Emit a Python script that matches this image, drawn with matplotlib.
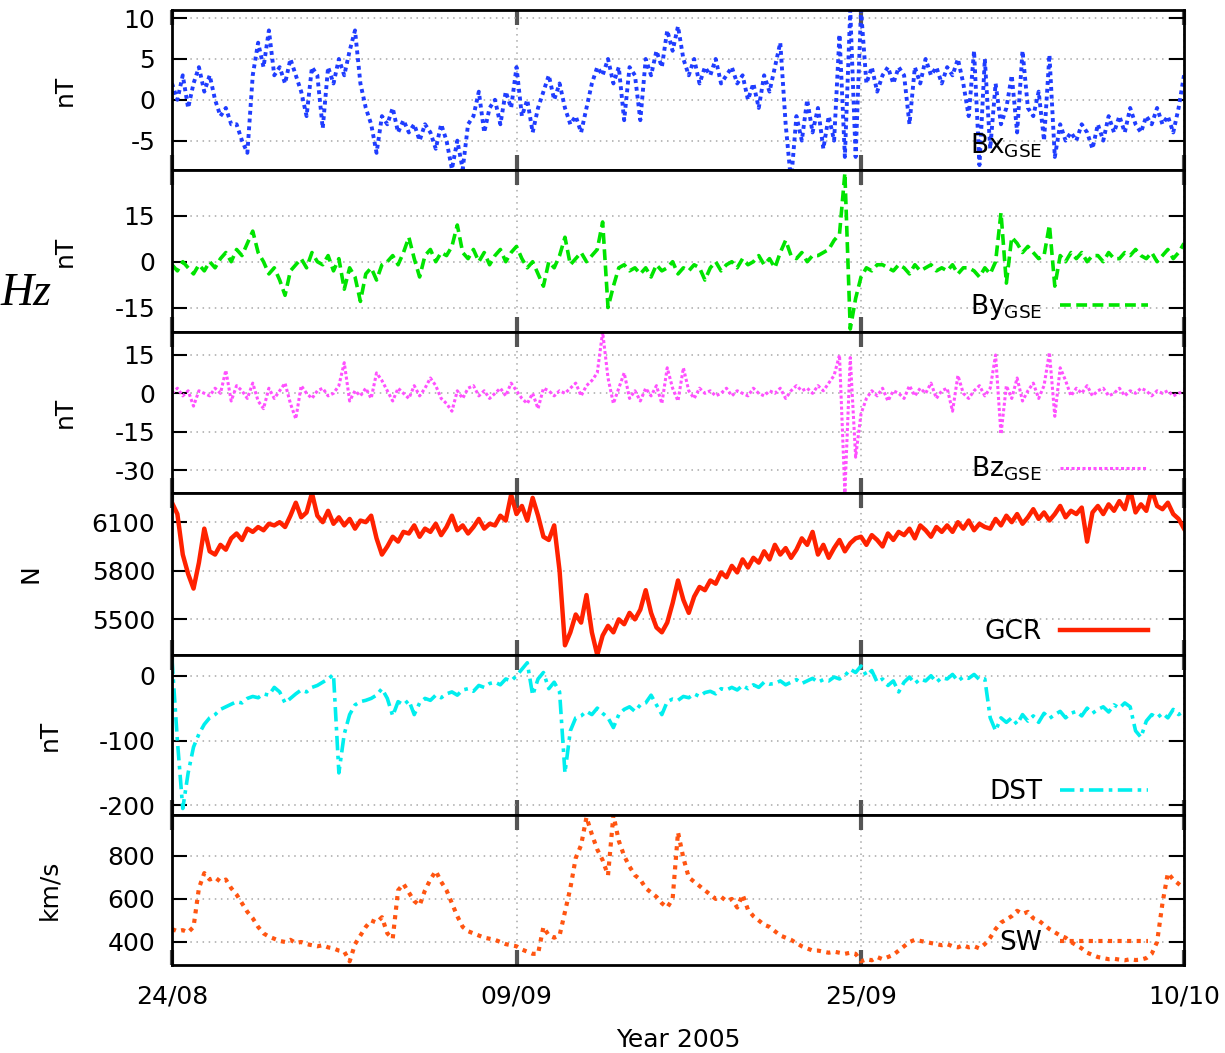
import pandas as pd
import matplotlib
matplotlib.use("Agg")
import matplotlib.pyplot as plt
import matplotlib.dates as mdates

plt.rcParams["font.family"] = ["DejaVu Sans"]
plt.rcParams["axes.unicode_minus"] = False

# ----------------------------------------------------
# 6-hourly samples, 24/08/2005 00:00 -> 10/10/2005 00:00
# ----------------------------------------------------
times = pd.date_range("2005-08-24", "2005-10-10", freq="6h")

bx = [
    2, 0, 3, -1,  2, 4, 1, 3,  0, -2, -1, -3,  -3, -5, -6.5, 3,
    7, 4, 8.5, 3,  4, 2, 5, 3,  1, -2, 4, 3,  -3.5, 4, 2, 5,
    3, 6, 8.5, 2,  -1, -3, -6.5, -2,  -3, -1, -4, -2.5,  -4, -3, -5, -3,
    -4, -6, -3, -5,  -8.5, -5, -8.5, -3,  -2, 1, -4, -1,  0, -3, 1, -1,
    4, -2, 0, -4,  -1, 1, 3, 0,  2, -1, -3, -2,  -4, -1, 2, 4,
    3, 5, 2, 4,  -2.5, 4, 3, -2.5,  5, 3, 6, 4,  8.5, 6, 9, 5,
    3, 5, 2, 4,  3, 5, 2, 3,  4, 2, 3, 0,  2, -1, 3, 1,
    4, 7, -3, -10,  -2, -5, 0, -4,  -1, -6, -2, -5,  8, -7, 11, -7,
    11, 2, 4, 1,  3, 4, 2, 4,  3, -3, 4, 2,  5, 3, 4, 2,
    4, 3, 5, 2,  -2, 6, -8, 5,  -6, 2, -3, -1,  3, -4, 6, -1,
    -2, 1, -5, 5.5,  -7, -3, -5, -4,  -5, -3, -4, -6,  -3, -5, -2, -4,
    -2, -4, -1, -3,  -4, -2, -3, -1,  -3, -2, -4, -1,
    3,
]

by = [
    -1, -3, 0, -2,  -4, -1, -3, 0,  -2, 1, 3, 0,  4, 2, 6, 10,
    3, 0, -4, -2,  -6, -11, -3, -1,  1, -2, 3, 0,  -1, 2, -3, 1,
    -9, -2, -5, -13,  -4, -2, -6, -1,  0, 2, -1, 3,  8, 1, -5, 2,
    4, 0, 3, 2,  5, 12, 3, 1,  4, 0, 3, -1,  2, 4, 0, 3,
    5, 1, -2, 0,  -4, -8, 0, -2,  2, 8, -1, 1,  3, 0, 2, 4,
    13, -15, -8, -2,  -1, -3, -2, -4,  -2, -5, -1, -3,  -2, 0, -4, -2,
    -3, -1, -2, -6,  -2, 0, -3, -1,  0, -2, 1, -1,  0, 2, -1, 1,
    -2, 3, 7, 2,  1, 3, 0, 2,  2, 3, 4, 7,  9, 29, -22, -12,
    -5, -2, -3, -1,  -1, -2, -3, -1,  -2, -4, -1, -3,  -2, -1, -3, -2,
    -3, -1, -4, -2,  -2, -3, -5, -2,  -4, 0, 16, -7,  8, 6, 3, 5,
    3, 1, 2, 12,  -8, 2, 0, 3,  1, 3, 0, 2,  2, 0, 3, 1,
    1, 3, 2, 4,  2, 1, 3, 0,  2, 4, 1, 3,
    6,
]

bz = [
    0, 2, -1, 1,  -5, 1, 0, -1,  2, 0, 9, -3,  3, 1, -2, 4,
    -3, -6, 2, -2,  1, 4, -4, -10,  3, 0, -2, 1,  2, -1, 0, 3,
    12, -3, 1, -1,  2, -2, 8, 5,  1, -3, 2, 0,  -2, 3, -1, 2,
    6, 3, -2, -4,  -7, 1, -2, 2,  3, -1, 1, -2,  0, 2, -1, 4,
    1, -2, -4, 0,  -6, 2, 1, -1,  1, 0, 2, 4,  -1, 3, 5, 8,
    24, 6, -4, 2,  8, -2, 1, -3,  2, -1, 3, -4,  10, 2, -3, 10,
    1, -2, 2, 0,  1, -1, 0, 2,  -1, 1, 0, -1,  2, 0, -1, 1,
    0, 2, -2, 1,  3, 1, 2, 0,  3, 1, 4, 7,  15, -39, 14, -25,
    -8, -2, 1, -1,  2, -3, 1, 0,  -2, 3, -1, 2,  0, 4, -2, 1,
    2, -7, 7, 0,  -2, 1, 3, -1,  2, 15, -16, 3,  -2, 6, -3, 1,
    4, -2, 3, 16,  -9, 10, 5, -1,  2, 0, 3, -1,  1, 2, -1, 0,
    2, -1, 1, 0,  2, 1, -1, 1,  0, 1, -1, 0,
    1,
]

gcr = [
    6220, 6150, 5900, 5780,  5690, 5850, 6060, 5920,  5900, 5960, 5930, 6000,
    6030, 5990, 6060, 6040,  6070, 6050, 6090, 6080,  6100, 6070, 6140, 6220,
    6130, 6160, 6280, 6140,  6100, 6170, 6090, 6130,  6080, 6120, 6060, 6110,
    6100, 6140, 6000, 5900,  5950, 6010, 5980, 6040,  6030, 6080, 6010, 6060,
    6040, 6090, 6020, 6070,  6140, 6050, 6080, 6030,  6070, 6120, 6060, 6090,
    6080, 6140, 6110, 6270,  6150, 6200, 6110, 6250,  6140, 6010, 5990, 6080,
    5800, 5340, 5420, 5530,  5480, 5650, 5420, 5280,  5400, 5460, 5420, 5500,
    5470, 5540, 5500, 5560,  5680, 5540, 5450, 5420,  5480, 5600, 5740, 5620,
    5540, 5640, 5700, 5680,  5740, 5720, 5790, 5760,  5830, 5790, 5870, 5820,
    5880, 5850, 5920, 5870,  5960, 5900, 5940, 5880,  5930, 6000, 5960, 6040,
    5900, 5960, 5880, 5940,  5990, 5920, 5970, 6000,  6010, 5960, 6020, 5990,
    5950, 6030, 5990, 6040,  6020, 6060, 6000, 6080,  6050, 6010, 6070, 6040,
    6080, 6040, 6100, 6060,  6110, 6050, 6090, 6070,  6060, 6120, 6080, 6140,
    6100, 6150, 6090, 6130,  6180, 6120, 6160, 6110,  6150, 6200, 6130, 6170,
    6150, 6190, 5980, 6160,  6200, 6150, 6210, 6170,  6230, 6180, 6300, 6160,
    6210, 6170, 6300, 6200,  6180, 6220, 6150, 6120,
    6060,
]

dst = [
    25, -100, -205, -150,  -110, -90, -75, -65,  -60, -52, -48, -44,
    -40, -42, -35, -32,  -34, -28, -30, -18,  -25, -42, -35, -28,
    -22, -25, -18, -15,  -10, -5, 2, -150,  -90, -60, -45, -40,
    -38, -35, -30, -20,  -35, -62, -40, -45,  -38, -60, -42, -35,
    -38, -30, -34, -28,  -25, -30, -22, -20,  -24, -15, -18, -12,
    -10, -14, -5, -8,  0, 10, 20, -30,  -5, 5, -20, -10,
    -25, -150, -85, -65,  -62, -55, -60, -50,  -58, -65, -80, -60,
    -52, -48, -55, -45,  -42, -30, -45, -60,  -40, -36, -38, -32,
    -34, -28, -32, -26,  -24, -28, -20, -22,  -18, -22, -15, -20,
    -14, -18, -10, -13,  -12, -8, -14, -10,  -6, -12, -8, -4,
    -10, -6, -8, -2,  -5, 0, 10, 5,  15, 0, 8, -10,
    -5, -15, -8, -25,  -10, -2, -12, -5,  -8, 0, -10, -3,
    -5, 2, -8, -2,  -4, 2, -6, -5,  -65, -85, -65, -72,
    -65, -75, -60, -70,  -62, -72, -58, -66,  -60, -55, -65, -58,
    -55, -62, -50, -58,  -52, -48, -56, -45,  -50, -42, -48, -85,
    -95, -70, -60, -65,  -58, -65, -52, -60,
    -55,
]

sw = [
    460, 450, 455, 445,  470, 650, 720, 690,  700, 680, 690, 650,
    620, 580, 540, 510,  470, 440, 425, 415,  405, 400, 410, 395,
    400, 390, 385, 380,  385, 375, 370, 360,  355, 310, 390, 430,
    470, 500, 490, 515,  440, 415, 640, 670,  630, 590, 570, 640,
    690, 730, 680, 640,  580, 520, 470, 450,  440, 430, 420, 415,
    410, 400, 390, 385,  380, 365, 355, 345,  345, 470, 430, 420,
    430, 540, 650, 790,  850, 980, 900, 830,  780, 710, 990, 870,
    800, 750, 710, 690,  650, 630, 610, 580,  560, 600, 910, 790,
    700, 680, 660, 640,  620, 600, 610, 590,  600, 560, 620, 550,
    520, 500, 480, 470,  450, 430, 420, 410,  395, 380, 370, 360,
    360, 355, 350, 355,  350, 345, 350, 345,  310, 320, 315, 330,
    320, 330, 340, 360,  380, 400, 410, 405,  400, 395, 390, 385,
    390, 380, 375, 385,  375, 380, 370, 390,  420, 460, 490, 505,
    520, 545, 530, 540,  510, 500, 480, 460,  445, 430, 420, 400,
    385, 370, 350, 340,  330, 325, 320, 322,  318, 315, 320, 316,
    318, 325, 345, 400,  580, 720, 690, 670,
    650,
]

date_ticks = ["2005-08-24", "2005-09-09", "2005-09-25", "2005-10-10"]

# ----------------------------------------------------
# panel settings
# ----------------------------------------------------
panels = [
    dict(y=bx, color="#1f3dff", ls=(0, (1, 1)), lw=2.8, label=r"Bx$_{\mathregular{GSE}}$",
         ylim=(-8.6, 11), yticks=[-5, 0, 5, 10], ylabel="nT", lx=-0.094, key=False),
    dict(y=by, color="#00e400", ls=(0, (3, 1.5)), lw=2.6, label=r"By$_{\mathregular{GSE}}$",
         ylim=(-23, 30), yticks=[-15, 0, 15], ylabel="nT", lx=-0.094, key=True),
    dict(y=bz, color="#ff50ff", ls=(0, (1, 0.8)), lw=2.2, label=r"Bz$_{\mathregular{GSE}}$",
         ylim=(-39, 24), yticks=[-30, -15, 0, 15], ylabel="nT", lx=-0.094, key=True),
    dict(y=gcr, color="#ff2200", ls="-", lw=3.2, label="GCR",
         ylim=(5280, 6280), yticks=[5500, 5800, 6100], ylabel="N", lx=-0.128, key=True),
    dict(y=dst, color="#00eeee", ls=(0, (4, 1.5, 1, 1.5)), lw=2.6, label="DST",
         ylim=(-215, 32), yticks=[-200, -100, 0], ylabel="nT", lx=-0.109, key=True),
    dict(y=sw, color="#ff5511", ls=(0, (1, 1.3)), lw=3.0, label="SW",
         ylim=(293, 990), yticks=[400, 600, 800], ylabel="km/s", lx=-0.109, key=True),
]

fig = plt.figure(figsize=(12.25, 10.53), dpi=100)
axes = fig.subplots(6, 1, sharex=True,
                    gridspec_kw={"height_ratios": [160, 162, 161, 162, 160, 150],
                                 "hspace": 0})
fig.subplots_adjust(left=172 / 1225, right=1184 / 1225,
                    top=1 - 10 / 1053, bottom=1 - 965 / 1053)

for ax, p in zip(axes, panels):
    ax.plot(times, p["y"], color=p["color"], linestyle=p["ls"],
            linewidth=p["lw"], label=p["label"])
    ax.set_ylim(*p["ylim"])
    ax.set_yticks(p["yticks"])
    ax.set_ylabel(p["ylabel"], fontsize=18)
    ax.yaxis.set_label_coords(p["lx"], 0.5)
    ax.grid(True, color="#a8a8a8", linestyle=(0, (1, 3)), linewidth=1.1)
    ax.tick_params(axis="y", direction="in", length=11, width=1.5,
                   left=True, right=True, labelsize=18, pad=12)
    ax.tick_params(axis="x", direction="in", length=11, width=3,
                   color="#555555", top=True, bottom=True, labelsize=18, pad=14)
    for s in ax.spines.values():
        s.set_linewidth(2)
    leg = ax.legend(loc="lower right", bbox_to_anchor=(0.964, 0.06), frameon=False,
                    markerfirst=False, fontsize=19, handlelength=3.3,
                    handletextpad=0.7, borderpad=0, borderaxespad=0)
    if not p["key"]:
        leg.legend_handles[0].set_visible(False)

ax = axes[-1]
ax.set_xlim(pd.Timestamp(date_ticks[0]), pd.Timestamp(date_ticks[-1]))
ax.set_xticks([pd.Timestamp(d) for d in date_ticks])
ax.xaxis.set_major_formatter(mdates.DateFormatter("%d/%m"))
ax.set_xlabel("Year 2005", fontsize=18, labelpad=14)

# italic text at the left margin
fig.text(1 / 1225, 1 - 294 / 1053, "Hz", ha="left", va="center",
         fontsize=33, family="Liberation Serif", style="italic")

fig.savefig("out.png", dpi=100)
